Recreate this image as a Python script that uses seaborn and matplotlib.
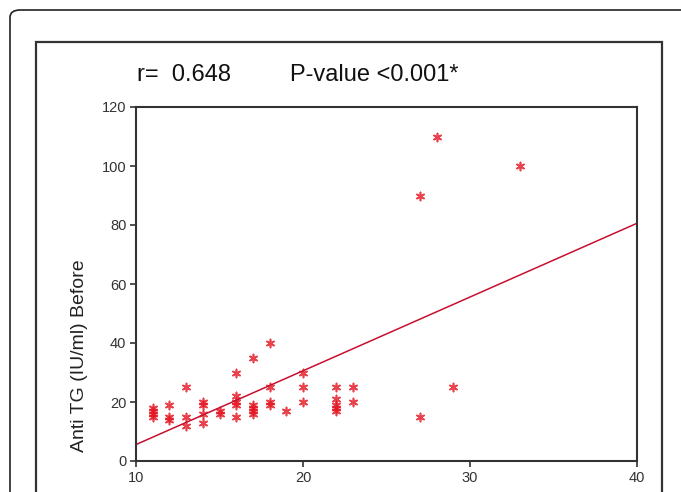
import matplotlib
matplotlib.use("Agg")
import matplotlib.pyplot as plt
from matplotlib.patches import FancyBboxPatch, Rectangle
import seaborn as sns
import pandas as pd

# Data
x_vals = [11, 11, 11, 11,
          12, 12, 12,
          13, 13, 13,
          14, 14, 14, 14,
          15, 15,
          16, 16, 16, 16, 16,
          17, 17, 17, 17, 17,
          18, 18, 18, 18,
          19,
          20, 20, 20,
          22, 22, 22, 22, 22,
          23, 23,
          27, 27, 28, 29, 33]
y_vals = [18, 16, 15, 17,
          19, 15, 14,
          25, 15, 12,
          20, 19, 16, 13,
          17, 16,
          30, 22, 20, 19, 15,
          35, 19, 18, 17, 16,
          40, 25, 20, 19,
          17,
          30, 25, 20,
          25, 21, 19, 18, 17,
          25, 20,
          90, 15, 110, 25, 100]
x_ticks = [10, 20, 30, 40]
y_ticks = [0, 20, 40, 60, 80, 100, 120]
r_text = "r=  0.648"
p_text = "P-value <0.001*"
y_label = "Anti TG (IU/ml) Before"

df = pd.DataFrame({"x": x_vals, "y": y_vals})

sns.set_theme(style="white")
plt.rcParams["font.family"] = ["Liberation Sans", "DejaVu Sans"]

W, H = 681, 492
fig = plt.figure(figsize=(W / 100, H / 100), dpi=100)

def fx(px):
    return px / W

def fy(py):
    return 1 - py / H

# Outer rounded frame and inner box
fig.patches.append(FancyBboxPatch((fx(10), fy(520)), fx(700) - fx(10), fy(10) - fy(520),
                                  boxstyle="round,pad=0,rounding_size=0.015",
                                  transform=fig.transFigure, fill=False,
                                  edgecolor="#222222", linewidth=1.2, zorder=0))
fig.patches.append(Rectangle((fx(36), fy(520)), fx(662) - fx(36), fy(42) - fy(520),
                             transform=fig.transFigure, fill=False,
                             edgecolor="#333333", linewidth=1.6, zorder=0))

ax = fig.add_axes([fx(136), fy(461), fx(637) - fx(136), fy(107) - fy(461)])
ax.set_facecolor("none")
ax.set_xlim(10, 40)
ax.set_ylim(0, 120)

sns.regplot(data=df, x="x", y="y", ax=ax, ci=None, truncate=False,
            marker=(6, 2, 0),
            scatter_kws=dict(s=34, color="#e3141f", linewidths=1.2),
            line_kws=dict(color="#c8102e", linewidth=1.1))

ax.set_xlim(10, 40)
ax.set_ylim(0, 120)
ax.set_xticks(x_ticks)
ax.set_yticks(y_ticks)
ax.set_xlabel("")
ax.set_ylabel("")
for s in ax.spines.values():
    s.set_visible(True)
    s.set_color("#333333")
    s.set_linewidth(1.5)
ax.tick_params(axis="both", direction="out", length=4, width=1.2, color="#333333",
               labelsize=10.5, labelcolor="#333333", pad=3, left=True, bottom=True)

fig.text(fx(137), fy(75), r_text, fontsize=17, color="#111111", va="center", ha="left")
fig.text(fx(290), fy(75), p_text, fontsize=17, color="#111111", va="center", ha="left")
fig.text(fx(80), fy(356), y_label, fontsize=14, color="#222222", rotation=90,
         va="center", ha="center")

fig.savefig("out.png", dpi=100)
